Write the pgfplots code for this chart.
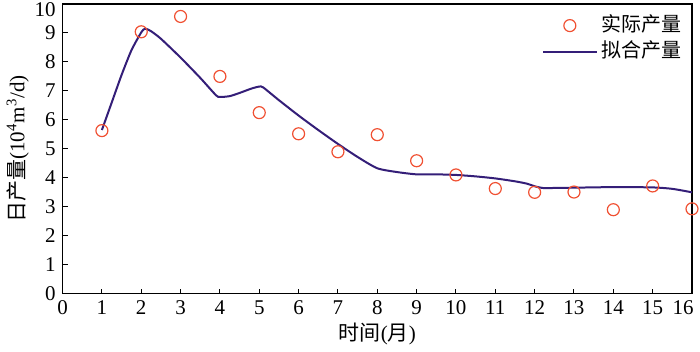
\documentclass[border=0pt]{standalone}
\usepackage{pgfplots}
\pgfplotsset{compat=1.18}
\usepackage{fontspec}
\setmainfont{Liberation Serif}
\newfontfamily\cjk{Noto Sans CJK SC}
\definecolor{fitline}{RGB}{52,30,120}
\definecolor{obs}{RGB}{240,80,50}
\pgfplotsset{
  markleg/.style={legend image code/.code={\draw[##1] plot coordinates {(0.47cm,0cm)};}},
  lineleg/.style={legend image code/.code={\draw[##1] (0cm,0cm) -- (0.94cm,0cm);}},
}
\begin{document}
\begin{tikzpicture}
\begin{axis}[scale only axis,width=315pt,height=145pt,
  xmin=0,xmax=16,ymin=0,ymax=10,
  xtick={0,...,15},ytick={0,...,9},
  extra x ticks={16},extra y ticks={10},
  extra x tick style={xticklabel style={xshift=-4.5pt}},
  extra y tick style={yticklabel style={yshift=-3pt}},
  tick align=inside,xtick pos=bottom,ytick pos=left,
  major tick length=2.5pt,tick style={black,line width=0.5pt},
  axis line style={line width=0.6pt},
  /pgf/number format/assume math mode=true,
  tick label style={font=\fontsize{10.5}{12}\selectfont},
  label style={font=\fontsize{10.5}{12}\selectfont},
  xlabel={{\cjk 时间}({\cjk 月})},
  ylabel={{\cjk 日产量}(10\textsuperscript{4}m\textsuperscript{3}/d)},
  xlabel style={yshift=3pt},
  ylabel style={yshift=-4pt},
  legend style={draw=none,fill=none,at={(0.989,0.972)},anchor=north east,
    inner sep=0pt,font=\cjk\fontsize{10}{12}\selectfont,row sep=0pt,
    nodes={inner sep=1.8pt,text height=7.5pt,text depth=2pt},
    cells={anchor=west}},
]
\addplot[only marks,mark=o,mark size=3pt,obs,mark options={line width=0.6pt},markleg]
coordinates {(1,5.63) (2,9.04) (3,9.57) (4,7.5) (5,6.25) (6,5.52) (7,4.9) (8,5.49)
 (9,4.59) (10,4.1) (11,3.63) (12,3.5) (13,3.51) (14,2.9) (15,3.72) (16,2.93)};
\addlegendentry{实际产量}
\addplot[fitline,line width=1pt,smooth,tension=0.4,lineleg]
coordinates {(1,5.65) (1.25,6.6) (1.5,7.55) (1.75,8.4) (2,9.02) (2.1,9.15) (2.25,9.06)
 (2.5,8.8) (3,8.15) (3.5,7.45) (3.9,6.85) (4,6.79) (4.25,6.82) (4.5,6.93) (4.8,7.08)
 (5,7.15) (5.1,7.12) (5.5,6.68) (6,6.15) (6.5,5.65) (7,5.17) (7.5,4.72) (8,4.33)
 (8.5,4.2) (9,4.12) (9.5,4.12) (10,4.1) (10.5,4.05) (11,3.98) (11.5,3.88) (11.8,3.8)
 (12,3.71) (12.2,3.65) (12.5,3.65) (13,3.66) (14,3.68) (15,3.67) (15.5,3.62) (16,3.5)};
\addlegendentry{拟合产量}
\end{axis}
\pgfresetboundingbox
\coordinate (tr) at ([xshift=4pt,yshift=2pt]current axis.north east);
\path (current axis.outer south west) rectangle (tr);
\end{tikzpicture}
\end{document}
